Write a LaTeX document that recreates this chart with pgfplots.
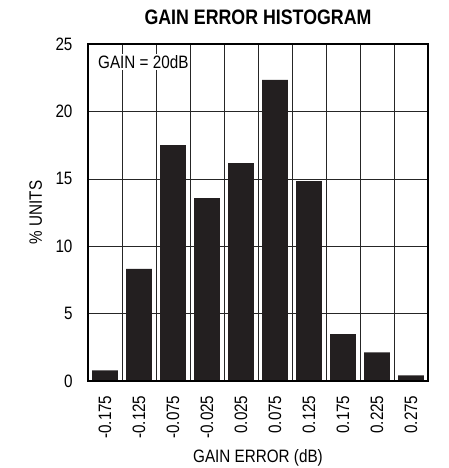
\documentclass[border=0pt]{standalone}
\usepackage{fontspec}
\setmainfont{Liberation Sans}[FakeStretch=0.85]
\usepackage{pgfplots}
\pgfplotsset{compat=1.18}
\definecolor{barc}{HTML}{231F20}
\begin{document}
\begin{tikzpicture}
\begin{axis}[
  name=ax,
  width=340bp, height=337bp, scale only axis,
  xmin=-0.5, xmax=9.5, ymin=0, ymax=25,
  xtick={0,...,9},
  xticklabels={-0.175,-0.125,-0.075,-0.025,0.025,0.075,0.125,0.175,0.225,0.275},
  minor xtick={0.5,1.5,...,8.5},
  xminorgrids,
  ytick={0,5,...,25},
  ymajorgrids,
  major tick length=0, minor tick length=0,
  /pgf/number format/assume math mode=true,
  tick label style={font=\fontsize{18}{18}\selectfont},
  xticklabel style={rotate=90, anchor=east, xshift=-11bp},
  yticklabel style={xshift=-12bp},
  grid style={black!85, line width=0.6bp},
  minor grid style={black!85, line width=0.6bp},
  axis line style={line width=1.6bp},
  xlabel={GAIN ERROR (dB)},
  ylabel={\% UNITS},
  label style={font=\fontsize{18}{18}\selectfont},
  xlabel style={at={(0.5,0)}, anchor=base, yshift=-81bp},
  ylabel style={at={(0,0.5)}, anchor=base, yshift=46bp},
  title={\bfseries GAIN ERROR HISTOGRAM},
  title style={font=\fontsize{21}{21}\selectfont, at={(0.5,1)}, anchor=base, yshift=14bp},
]
\addplot[ybar, bar width=0.76, fill=barc, draw=none] coordinates {
(0,0.79) (1,8.32) (2,17.5) (3,13.56) (4,16.16) (5,22.33) (6,14.83) (7,3.47) (8,2.13) (9,0.42)
};
\node[fill=white, inner sep=1.5bp, anchor=north west, font=\fontsize{18}{18}\selectfont]
  at (rel axis cs:0,1) [xshift=8.5bp, yshift=-10bp] {GAIN = 20dB};
\node[rotate=90, anchor=north east, inner sep=0pt, font=\fontsize{9}{9}\selectfont]
  at (rel axis cs:1,1) [xshift=4bp, yshift=-2bp] {MAX2078 toc03};
\draw[line width=1.6bp] (rel axis cs:0,0) rectangle (rel axis cs:1,1);
\end{axis}
\pgfresetboundingbox
\path (ax.south west) ++(-88bp,-87bp) rectangle ++(449bp,468bp);
\end{tikzpicture}
\end{document}
